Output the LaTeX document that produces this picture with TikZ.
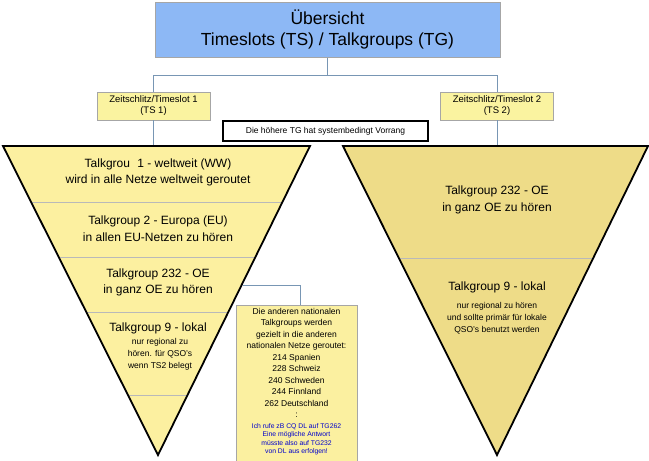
\documentclass[tikz,border=0pt]{standalone}
\usepackage{fontspec}
\setmainfont{Liberation Sans}
\begin{document}
\begin{tikzpicture}[x=1pt,y=-1pt,
  conn/.style={draw=connc,line width=0.9pt},
  tsbox/.style={draw=gray!70,fill=tsfill,inner sep=0pt,minimum width=113pt,minimum height=28pt,font=\fontsize{9.5}{11}\selectfont,align=center},
  tri/.style={draw=black,line width=1.8pt,line join=miter},
  sep/.style={draw=gray!55,line width=0.6pt},
  big/.style={font=\fontsize{12}{16.5}\selectfont,align=center,inner sep=0pt},
  small/.style={font=\fontsize{8.5}{12}\selectfont,align=center,inner sep=0pt}]
\definecolor{connc}{HTML}{7896B4}
\definecolor{tsfill}{HTML}{FAF3A0}
\definecolor{lfill}{HTML}{FCF0A0}
\definecolor{rfill}{HTML}{EEDC88}
\definecolor{tfill}{HTML}{8DB8F5}
\definecolor{cfill}{HTML}{FBF0A0}
\useasboundingbox (0,0) rectangle (649,461);
\fill[white] (0,0) rectangle (649,461);
% title
\node[draw=gray!70,line width=1pt,fill=tfill,minimum width=345pt,minimum height=55pt,inner sep=0pt,align=center,font=\fontsize{17.5}{21}\selectfont] (title) at (327.5,29.5) {Übersicht\\Timeslots (TS) / Talkgroups (TG)};
\node[tsbox] (ts1) at (153.5,106) {Zeitschlitz/Timeslot 1\\(TS 1)};
\node[tsbox] (ts2) at (497,106) {Zeitschlitz/Timeslot 2\\(TS 2)};
\coordinate (j) at (327.5,75);
\draw[conn] (title.south) -- (j) -| (ts1.north);
\draw[conn] (j) -| (ts2.north);
% triangles
\coordinate (ltl) at (3,146); \coordinate (ltr) at (310,146); \coordinate (lap) at (158,455);
\coordinate (rtl) at (343,146); \coordinate (rtr) at (648,146); \coordinate (rap) at (497,455);
\draw[conn] (ts1.south) -- (153.5,146);
\draw[conn] (ts2.south) -- (497,146);
\fill[lfill] (ltl) -- (ltr) -- (lap) -- cycle;
\fill[rfill] (rtl) -- (rtr) -- (rap) -- cycle;
% separators left
\foreach \y in {202,257,312,395}{
  \pgfmathsetmacro\xa{3+(\y-146)/309*155}
  \pgfmathsetmacro\xb{310-(\y-146)/309*152}
  \draw[sep] (\xa,\y) -- (\xb,\y);}
\pgfmathsetmacro\xa{343+(258-146)/309*154}
\pgfmathsetmacro\xb{648-(258-146)/309*151}
\draw[sep] (\xa,258) -- (\xb,258);
\draw[tri] (ltl) -- (ltr) -- (lap) -- cycle;
\draw[tri] (rtl) -- (rtr) -- (rap) -- cycle;
% note
\node[draw=black,line width=1.3pt,fill=white,minimum width=205pt,minimum height=20pt,inner sep=0pt,font=\fontsize{8.5}{10}\selectfont] (note) at (325.5,131) {Die höhere TG hat systembedingt Vorrang};
% left texts
\node[big] (l1) at (158,172.5) {Talkgrou\,\, 1 - weltweit (WW)\\wird in alle Netze weltweit geroutet};
\node[big] (l2) at (158,228.5) {Talkgroup 2 - Europa (EU)\\in allen EU-Netzen zu hören};
\node[big] (l3) at (158,282.5) {Talkgroup 232 - OE\\in ganz OE zu hören};
\node[big] (l4) at (158,328) {Talkgroup 9 - lokal};
\node[small] (l4s) at (160,354) {nur regional zu\\hören. für QSO's\\wenn TS2 belegt};
% right texts
\node[big] (r1) at (497,200) {Talkgroup 232 - OE\\in ganz OE zu hören};
\node[big] (r2) at (497,287) {Talkgroup 9 - lokal};
\node[small] (r2s) at (497,318.5) {nur regional zu hören\\und sollte primär für lokale\\QSO's benutzt werden};
% callout
\node[draw=gray!70,fill=cfill,minimum width=121pt,minimum height=160pt,inner sep=0pt,anchor=north] (call) at (296.5,305) {};
\coordinate (cs) at (243,285);
\draw[conn] (cs) -- (300,285) -- (300,305);
\node[font=\fontsize{8.5}{11.5}\selectfont,align=center,inner sep=0pt,anchor=north] (ct) at (296.5,308) {Die anderen nationalen\\Talkgroups werden\\gezielt in die anderen\\nationalen Netze geroutet:\\214 Spanien\\228 Schweiz\\240 Schweden\\244 Finnland\\262 Deutschland\\:};
\node[font=\fontsize{6.8}{8.6}\selectfont,text=blue!80!black,align=center,inner sep=0pt,anchor=north] (cb) at (296.5,423) {Ich rufe zB CQ DL auf TG262\\Eine mögliche Antwort\\müsste also auf TG232\\von DL aus erfolgen!};
\end{tikzpicture}
\end{document}
